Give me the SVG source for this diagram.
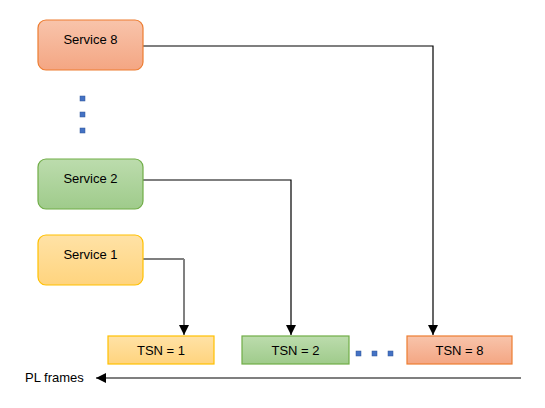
<svg xmlns="http://www.w3.org/2000/svg" width="545" height="408" viewBox="0 0 545 408">
<defs>
<linearGradient id="gOr" x1="0" y1="0" x2="0" y2="1"><stop offset="0" stop-color="#f8c4ab"/><stop offset="1" stop-color="#f4a683"/></linearGradient>
<linearGradient id="gGr" x1="0" y1="0" x2="0" y2="1"><stop offset="0" stop-color="#bcdcad"/><stop offset="1" stop-color="#9fcb8b"/></linearGradient>
<linearGradient id="gYe" x1="0" y1="0" x2="0" y2="1"><stop offset="0" stop-color="#ffe2a6"/><stop offset="1" stop-color="#ffd47e"/></linearGradient>
<marker id="arr" viewBox="0 0 10 10" refX="10" refY="5" markerWidth="10" markerHeight="10" markerUnits="userSpaceOnUse" orient="auto"><path d="M0,0 L10,5 L0,10 Z" fill="#000"/></marker>
</defs>
<style>
text{font-family:"Liberation Sans",Arial,sans-serif;font-size:13px;fill:#000}
.or{fill:url(#gOr);stroke:#ed7d31;stroke-width:1.2}
.gr{fill:url(#gGr);stroke:#70ad47;stroke-width:1.2}
.ye{fill:url(#gYe);stroke:#ffc000;stroke-width:1.2}
.c{fill:none;stroke:#000;stroke-width:1.2}
.dot{fill:#4472c4;stroke:#2f5597;stroke-width:0.5}
</style>
<rect width="545" height="408" fill="#fff"/>
<g id="connectors">
<path class="c" d="M143,46 H433 V335" marker-end="url(#arr)"/>
<path class="c" d="M143,180 H291 V335" marker-end="url(#arr)"/>
<path class="c" d="M143,259 H184"/>
<path d="M184,259 V335" fill="none" stroke="#808080" stroke-width="2" marker-end="url(#arr)"/>
<path class="c" d="M521,378 H96" marker-end="url(#arr)"/>
</g>
<g id="service8"><rect class="or" x="38" y="20" width="105" height="50" rx="8"/><text x="90.5" y="44" text-anchor="middle">Service 8</text></g>
<g id="service2"><rect class="gr" x="38" y="159" width="105" height="50" rx="8"/><text x="90.5" y="183" text-anchor="middle">Service 2</text></g>
<g id="service1"><rect class="ye" x="38" y="235" width="105" height="50" rx="8"/><text x="90.5" y="259" text-anchor="middle">Service 1</text></g>
<g id="vdots"><rect class="dot" x="80" y="96" width="5" height="5"/><rect class="dot" x="80" y="112" width="5" height="5"/><rect class="dot" x="80" y="128" width="5" height="5"/></g>
<g id="tsn1"><rect class="ye" x="108" y="336" width="106" height="28"/><text x="161" y="355" text-anchor="middle">TSN = 1</text></g>
<g id="tsn2"><rect class="gr" x="242" y="336" width="107" height="28"/><text x="295.5" y="355" text-anchor="middle">TSN = 2</text></g>
<g id="hdots"><rect class="dot" x="356" y="351" width="5" height="5"/><rect class="dot" x="372" y="351" width="5" height="5"/><rect class="dot" x="388" y="351" width="5" height="5"/></g>
<g id="tsn8"><rect class="or" x="407" y="336" width="105" height="28"/><text x="459.5" y="355" text-anchor="middle">TSN = 8</text></g>
<g id="plframes"><text x="25" y="382">PL frames</text></g>
</svg>
